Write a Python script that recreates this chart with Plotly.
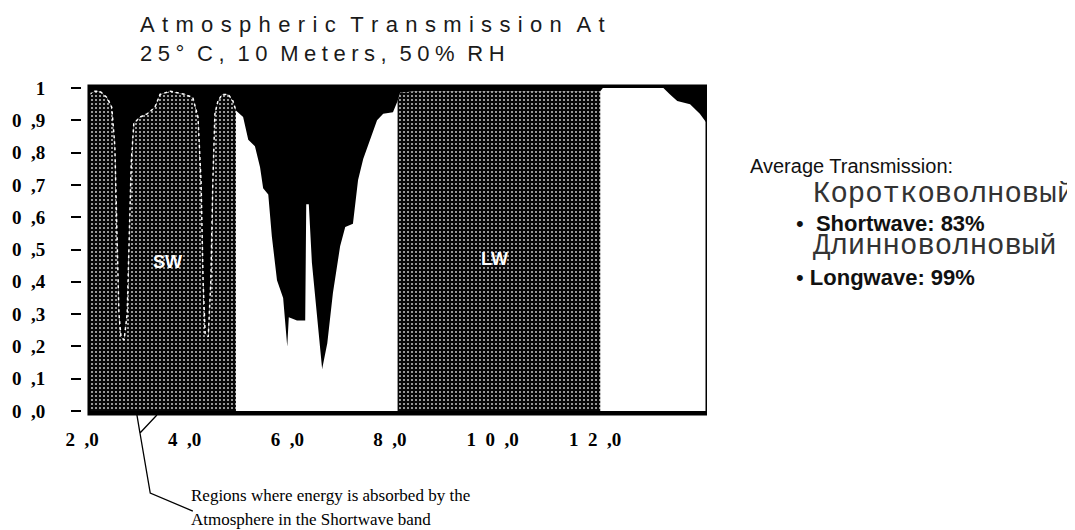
import numpy as np
import plotly.graph_objects as go

# wavelength (um) and atmospheric transmission
wavelength = [2.14, 2.25, 2.35, 2.49, 2.58, 2.64, 2.68, 2.72, 2.76,
              2.82, 2.88, 2.92, 2.96, 3.01, 3.13, 3.27, 3.42, 3.52, 3.72,
              4.01, 4.16, 4.26, 4.32, 4.36, 4.40, 4.46, 4.51, 4.55, 4.59,
              4.65, 4.73, 4.85, 4.94, 5.00, 5.14, 5.24, 5.37, 5.47, 5.53,
              5.63, 5.70, 5.80, 5.92, 6.00, 6.03, 6.19, 6.35, 6.37, 6.42,
              6.48, 6.68, 6.78, 6.89, 7.03, 7.13, 7.28, 7.38, 7.48, 7.61,
              7.75, 7.87, 8.06, 8.15, 8.20, 8.50, 9.00, 9.50, 10.00, 10.50,
              11.00, 11.50, 12.00, 12.10, 12.15, 13.33, 13.46, 13.60, 13.85, 14.04,
              14.18, 14.30]
transmission = [0.98, 0.99, 0.99, 0.97, 0.94, 0.82, 0.56, 0.30, 0.23,
                0.22, 0.30, 0.56, 0.77, 0.89, 0.91, 0.92, 0.94, 0.98, 0.99,
                0.98, 0.97, 0.91, 0.71, 0.40, 0.24, 0.23, 0.40, 0.71, 0.92,
                0.96, 0.98, 0.98, 0.96, 0.93, 0.91, 0.84, 0.82, 0.755, 0.69,
                0.67, 0.54, 0.405, 0.35, 0.20, 0.29, 0.28, 0.28, 0.64, 0.64,
                0.46, 0.13, 0.21, 0.365, 0.51, 0.57, 0.58, 0.715, 0.78, 0.84,
                0.90, 0.92, 0.925, 0.96, 0.985, 0.99, 0.99, 0.99, 0.99, 0.99,
                0.99, 0.99, 0.99, 0.99, 1.00, 1.00, 0.98, 0.96, 0.95, 0.92,
                0.89, 0.88]

sw_band = (2.14, 5.00)
lw_band = (8.15, 12.10)
chart_start = 2.136   # the plotted window begins just right of the "2,0" label
chart_end = 14.18

y_ticks = [0.0, 0.1, 0.2, 0.3, 0.4, 0.5, 0.6, 0.7, 0.8, 0.9, 1.0]
y_ticktext = ["0\u2002,0", "0\u2002,1", "0\u2002,2", "0\u2002,3", "0\u2002,4",
              "0\u2002,5", "0\u2002,6", "0\u2002,7", "0\u2002,8", "0\u2002,9", "1"]
x_ticks = [2, 4, 6, 8, 10, 12]
x_ticktext = ["2\u2002,0", "4\u2002,0", "6\u2002,0", "8\u2002,0",
              "1\u20020\u2002,0", "1\u20022\u2002,0"]

avg_sw = 83
avg_lw = 99

# leader line of the "Regions where energy is absorbed" note (x in um, y in paper)
callout_x = [3.07, 3.46, 3.13, 3.33, 4.16]
callout_y = [-0.003, -0.003, -0.058, -0.241, -0.296]

SERIF = "Liberation Serif"
SANS = "Liberation Sans"
MONO = "Liberation Mono"


def spaced(text, gap="\u2004", word_gap="\u2004\u2004"):
    # the scanned title is letter-spaced
    return word_gap.join(gap.join(w) for w in text.split(" "))


def band(lo, hi):
    wl = np.array(wavelength)
    tr = np.array(transmission)
    keep = (wl >= lo) & (wl <= hi)
    return wl[keep], tr[keep]


fig = go.Figure()

# absorbed energy: black window behind everything
fig.add_shape(type="rect", xref="x", yref="y domain", x0=chart_start, x1=chart_end,
              y0=0, y1=1, fillcolor="black", line=dict(width=0), layer="below")

# transmitted energy (white)
fig.add_trace(go.Scatter(x=wavelength, y=transmission, mode="lines",
                         line=dict(width=0, color="white"),
                         fill="tozeroy", fillcolor="white", hoverinfo="skip"))

# SW / LW bands are printed with a speckled grey screen
for lo, hi in [sw_band, lw_band]:
    bx, by = band(lo, hi)
    fig.add_trace(go.Scatter(
        x=bx, y=by, mode="lines", line=dict(width=0, color="#888"),
        fill="tozeroy",
        fillpattern=dict(shape=".", fgcolor="#d8d8d8", bgcolor="#080808",
                         size=4, solidity=0.17, fillmode="replace"),
        hoverinfo="skip"))

sx, sy = band(*sw_band)
fig.add_trace(go.Scatter(x=sx, y=sy, mode="lines",
                         line=dict(width=1.5, color="white", dash="dot"),
                         hoverinfo="skip"))

fig.add_annotation(x=3.66, y=0.46, text="<b>SW</b>", showarrow=False,
                   font=dict(family=SANS, size=18, color="white"))
fig.add_annotation(x=10.03, y=0.47, text="<b>LW</b>", showarrow=False,
                   font=dict(family=SANS, size=18, color="white"))

# frame
fig.add_shape(type="rect", xref="x", yref="y domain", x0=chart_start, x1=chart_end,
              y0=0, y1=1, line=dict(color="black", width=3), layer="above")

# leader lines
path = (f"M {callout_x[0]},{callout_y[0]} L {callout_x[2]},{callout_y[2]} "
        f"M {callout_x[1]},{callout_y[1]} L {callout_x[2]},{callout_y[2]} "
        f"L {callout_x[3]},{callout_y[3]} L {callout_x[4]},{callout_y[4]}")
fig.add_shape(type="path", xref="x", yref="paper", path=path,
              line=dict(color="black", width=1.3))


def note(x, y, text, family, size, color="black"):
    fig.add_annotation(xref="paper", yref="paper", x=x, y=y,
                       xanchor="left", yanchor="middle", text=text, showarrow=False,
                       font=dict(family=family, size=size, color=color))


note(0.171, -0.247, "Regions where energy is absorbed by the", SERIF, 17)
note(0.171, -0.322, "Atmosphere in the Shortwave band", SERIF, 17)

# title
note(0.089, 1.186, spaced("Atmospheric Transmission At"), SANS, 22, "#1a1a1a")
note(0.089, 1.098, spaced("25° C, 10 Meters, 50% RH", gap="\u2005",
                          word_gap="\u2004\u2005"), SANS, 22, "#1a1a1a")

# side note
note(1.066, 0.756, "Average Transmission:", SANS, 20, "#111")
note(1.167, 0.668, "Коротковолновый", MONO, 29, "#333")
note(1.139, 0.582, "•  <b>Shortwave: %d%%</b>" % avg_sw, SANS, 22, "#111")
note(1.167, 0.510, "Длинноволновый", MONO, 29, "#333")
note(1.139, 0.415, "• <b>Longwave: %d%%</b>" % avg_lw, SANS, 22, "#111")

# page body has an 8px margin, so the figure is 8px smaller than the window
fig.update_layout(
    width=1067, height=522,
    margin=dict(l=74, r=368, t=78, b=116),
    paper_bgcolor="white", plot_bgcolor="white",
    showlegend=False,
    xaxis=dict(range=[2.0, chart_end], automargin=False,
               tickvals=x_ticks, ticktext=x_ticktext, ticks="",
               ticklabelstandoff=12, showgrid=False, zeroline=False, showline=False,
               tickfont=dict(family=SERIF, size=19, color="black", weight="bold")),
    yaxis=dict(range=[-0.0093, 1.0062], automargin=False,
               tickvals=y_ticks, ticktext=y_ticktext, ticks="outside",
               ticklen=10, tickwidth=2, tickcolor="black",
               ticklabelstandoff=22, showgrid=False, zeroline=False, showline=False,
               tickfont=dict(family=SERIF, size=19, color="black", weight="bold")),
)

fig.write_html("out.html")
